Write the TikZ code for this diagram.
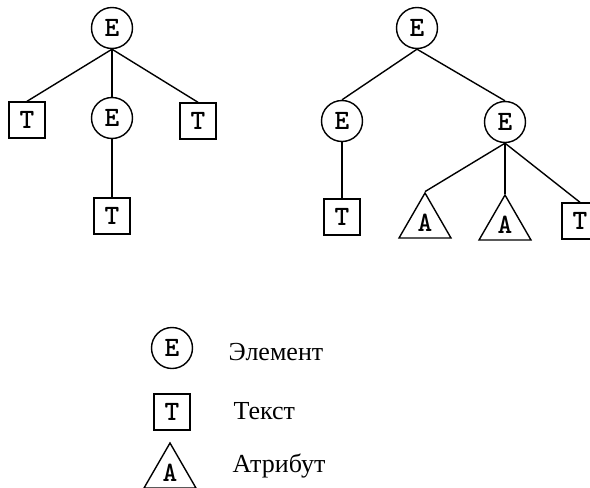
\documentclass[tikz,border=0pt]{standalone}
\usepackage{fontspec}
\setmainfont{Liberation Serif}
\usetikzlibrary{shapes.geometric}
\begin{document}
\begin{tikzpicture}[x=1pt,y=-1pt,line width=1.4pt,
  lettr/.style={font=\ttfamily\bfseries\fontsize{28}{28}\selectfont},
  elem/.style={draw,circle,minimum size=41pt,inner sep=0pt,lettr},
  txt/.style={draw,rectangle,minimum size=36pt,inner sep=0pt,lettr},
  attr/.style={draw,regular polygon,regular polygon sides=3,minimum size=60pt,inner sep=0pt,lettr},
  lbl/.style={anchor=west,inner sep=0pt,font=\fontsize{26}{26}\selectfont}]
\useasboundingbox (0,0) rectangle (590,488);
% left tree
\node[elem] (r1) at (112,28) {E};
\node[txt] (t1) at (27,120) {T};
\node[elem] (e1) at (112,118) {E};
\node[txt] (t2) at (198,121) {T};
\node[txt] (t3) at (112,216) {T};
\draw (r1.south) -- (t1.north);
\draw (r1.south) -- (e1.north);
\draw (r1.south) -- (t2.north);
\draw (e1.south) -- (t3.north);
% right tree
\node[elem] (r2) at (417,28) {E};
\node[elem] (e2) at (342,121) {E};
\node[elem] (e3) at (505,122) {E};
\node[txt] (t4) at (342,217) {T};
\node[attr] (a1) at (425,223) {A};
\node[attr] (a2) at (505,225) {A};
\node[txt] (t5) at (580,221) {T};
\draw (r2.south) -- (e2.north);
\draw (r2.south) -- (e3.north);
\draw (e2.south) -- (t4.north);
\draw (e3.south) -- (a1.corner 1);
\draw (e3.south) -- (a2.corner 1);
\draw (e3.south) -- (t5.north);
% legend
\node[elem] (le) at (172,348) {E};
\node[txt] (lt) at (172,412) {T};
\node[attr] (la) at (170,473) {A};
\node[lbl] (lte) at (228,352) {Элемент};
\node[lbl] (ltt) at (233,411) {Текст};
\node[lbl] (lta) at (232,466) {Атрибут};
\end{tikzpicture}
\end{document}
